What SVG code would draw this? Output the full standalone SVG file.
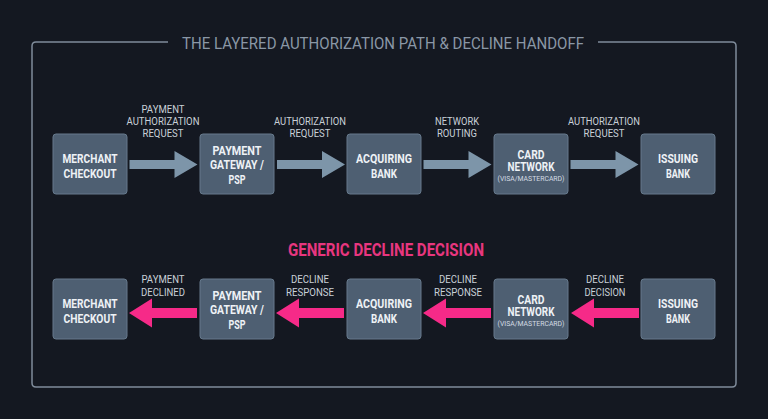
<svg xmlns="http://www.w3.org/2000/svg" width="768" height="419" viewBox="0 0 768 419">
<defs>
<style>
.bg{fill:#141821}
.frame{fill:none;stroke:#7f8b9a;stroke-width:1.5}
.title{font-family:Roboto,"Liberation Sans",sans-serif;font-size:17px;fill:#8a97a6}
.box{fill:#4e5f72;stroke:#66798c;stroke-width:1}
.nt{font-family:Roboto,"Liberation Sans",sans-serif;font-weight:bold;font-size:12px;fill:#eef2f6;text-anchor:middle}
.ns{font-family:Roboto,"Liberation Sans",sans-serif;font-size:7.5px;fill:#d4dbe3;text-anchor:middle}
.el{font-family:Roboto,"Liberation Sans",sans-serif;font-size:10.8px;fill:#c9d0d8;text-anchor:middle}
.fwd{fill:#7d95a9}
.back{fill:#f62a88}
.mag{font-family:Roboto,"Liberation Sans",sans-serif;font-weight:bold;font-size:18px;fill:#e8367f;text-anchor:middle}
</style>
<path id="ra" d="M0,-4.5 H45 V-13.5 L68,0 L45,13.5 V4.5 H0 Z"/>
<path id="la" d="M0,0 L23,-14.5 V-5 H68 V5 H23 V14.5 Z"/>
</defs>
<rect class="bg" x="0" y="0" width="768" height="419"/>
<path class="frame" d="M168,42 H36 Q32,42 32,46 V383 Q32,387 36,387 H732 Q736,387 736,383 V46 Q736,42 732,42 H598"/>
<text class="title" x="182" y="48.5" textLength="402" lengthAdjust="spacingAndGlyphs">THE LAYERED AUTHORIZATION PATH &amp; DECLINE HANDOFF</text>

<g id="connectors">
<use href="#ra" class="fwd" x="129.5" y="164.5"/>
<use href="#ra" class="fwd" x="277" y="164.5"/>
<use href="#ra" class="fwd" x="423.5" y="164.5"/>
<use href="#ra" class="fwd" x="570.5" y="164.5"/>
<use href="#la" class="back" x="129" y="313"/>
<use href="#la" class="back" x="276" y="313"/>
<use href="#la" class="back" x="423" y="313"/>
<use href="#la" class="back" x="571" y="313"/>
<text class="el" x="163" y="113" textLength="43" lengthAdjust="spacingAndGlyphs">PAYMENT</text>
<text class="el" x="163" y="125" textLength="73" lengthAdjust="spacingAndGlyphs">AUTHORIZATION</text>
<text class="el" x="163" y="137" textLength="41" lengthAdjust="spacingAndGlyphs">REQUEST</text>
<text class="el" x="310" y="125" textLength="72" lengthAdjust="spacingAndGlyphs">AUTHORIZATION</text>
<text class="el" x="310" y="137" textLength="41" lengthAdjust="spacingAndGlyphs">REQUEST</text>
<text class="el" x="457" y="125" textLength="44" lengthAdjust="spacingAndGlyphs">NETWORK</text>
<text class="el" x="457" y="137" textLength="40" lengthAdjust="spacingAndGlyphs">ROUTING</text>
<text class="el" x="604" y="125" textLength="72" lengthAdjust="spacingAndGlyphs">AUTHORIZATION</text>
<text class="el" x="604" y="137" textLength="41" lengthAdjust="spacingAndGlyphs">REQUEST</text>
<text class="el" x="163" y="283" textLength="43" lengthAdjust="spacingAndGlyphs">PAYMENT</text>
<text class="el" x="163" y="296" textLength="44" lengthAdjust="spacingAndGlyphs">DECLINED</text>
<text class="el" x="310" y="283" textLength="38" lengthAdjust="spacingAndGlyphs">DECLINE</text>
<text class="el" x="310" y="296" textLength="48" lengthAdjust="spacingAndGlyphs">RESPONSE</text>
<text class="el" x="458" y="283" textLength="38" lengthAdjust="spacingAndGlyphs">DECLINE</text>
<text class="el" x="458" y="296" textLength="48" lengthAdjust="spacingAndGlyphs">RESPONSE</text>
<text class="el" x="605" y="283" textLength="38" lengthAdjust="spacingAndGlyphs">DECLINE</text>
<text class="el" x="605" y="296" textLength="41" lengthAdjust="spacingAndGlyphs">DECISION</text>
</g>

<g id="merchant-top">
<rect class="box" x="53" y="134" width="74" height="60" rx="3"/>
<text class="nt" x="90" y="163" textLength="55" lengthAdjust="spacingAndGlyphs">MERCHANT</text>
<text class="nt" x="90" y="177.5" textLength="53" lengthAdjust="spacingAndGlyphs">CHECKOUT</text>
</g>
<g id="gateway-top">
<rect class="box" x="200" y="134" width="74" height="60" rx="3"/>
<text class="nt" x="237" y="154.5" textLength="49" lengthAdjust="spacingAndGlyphs">PAYMENT</text>
<text class="nt" x="237" y="169" textLength="54" lengthAdjust="spacingAndGlyphs">GATEWAY /</text>
<text class="nt" x="237" y="183.5" textLength="17" lengthAdjust="spacingAndGlyphs">PSP</text>
</g>
<g id="acquiring-top">
<rect class="box" x="347" y="134" width="74" height="60" rx="3"/>
<text class="nt" x="384" y="163" textLength="56" lengthAdjust="spacingAndGlyphs">ACQUIRING</text>
<text class="nt" x="384" y="177.5" textLength="26" lengthAdjust="spacingAndGlyphs">BANK</text>
</g>
<g id="network-top">
<rect class="box" x="494" y="134" width="74" height="60" rx="3"/>
<text class="nt" x="531" y="158.5" textLength="27" lengthAdjust="spacingAndGlyphs">CARD</text>
<text class="nt" x="531" y="171" textLength="47" lengthAdjust="spacingAndGlyphs">NETWORK</text>
<text class="ns" x="531" y="181" textLength="67" lengthAdjust="spacingAndGlyphs">(VISA/MASTERCARD)</text>
</g>
<g id="issuing-top">
<rect class="box" x="641" y="134" width="74" height="60" rx="3"/>
<text class="nt" x="678" y="163" textLength="40" lengthAdjust="spacingAndGlyphs">ISSUING</text>
<text class="nt" x="678" y="177.5" textLength="24" lengthAdjust="spacingAndGlyphs">BANK</text>
</g>

<text class="mag" x="386" y="255.5" textLength="196" lengthAdjust="spacingAndGlyphs">GENERIC DECLINE DECISION</text>

<g id="merchant-bottom">
<rect class="box" x="53" y="279" width="74" height="60" rx="3"/>
<text class="nt" x="90" y="308" textLength="55" lengthAdjust="spacingAndGlyphs">MERCHANT</text>
<text class="nt" x="90" y="322.5" textLength="53" lengthAdjust="spacingAndGlyphs">CHECKOUT</text>
</g>
<g id="gateway-bottom">
<rect class="box" x="200" y="279" width="74" height="60" rx="3"/>
<text class="nt" x="237" y="299.5" textLength="49" lengthAdjust="spacingAndGlyphs">PAYMENT</text>
<text class="nt" x="237" y="314" textLength="54" lengthAdjust="spacingAndGlyphs">GATEWAY /</text>
<text class="nt" x="237" y="328.5" textLength="17" lengthAdjust="spacingAndGlyphs">PSP</text>
</g>
<g id="acquiring-bottom">
<rect class="box" x="347" y="279" width="74" height="60" rx="3"/>
<text class="nt" x="384" y="308" textLength="56" lengthAdjust="spacingAndGlyphs">ACQUIRING</text>
<text class="nt" x="384" y="322.5" textLength="26" lengthAdjust="spacingAndGlyphs">BANK</text>
</g>
<g id="network-bottom">
<rect class="box" x="494" y="279" width="74" height="60" rx="3"/>
<text class="nt" x="531" y="303.5" textLength="27" lengthAdjust="spacingAndGlyphs">CARD</text>
<text class="nt" x="531" y="316" textLength="47" lengthAdjust="spacingAndGlyphs">NETWORK</text>
<text class="ns" x="531" y="326" textLength="67" lengthAdjust="spacingAndGlyphs">(VISA/MASTERCARD)</text>
</g>
<g id="issuing-bottom">
<rect class="box" x="641" y="279" width="74" height="60" rx="3"/>
<text class="nt" x="678" y="308" textLength="40" lengthAdjust="spacingAndGlyphs">ISSUING</text>
<text class="nt" x="678" y="322.5" textLength="24" lengthAdjust="spacingAndGlyphs">BANK</text>
</g>
</svg>
